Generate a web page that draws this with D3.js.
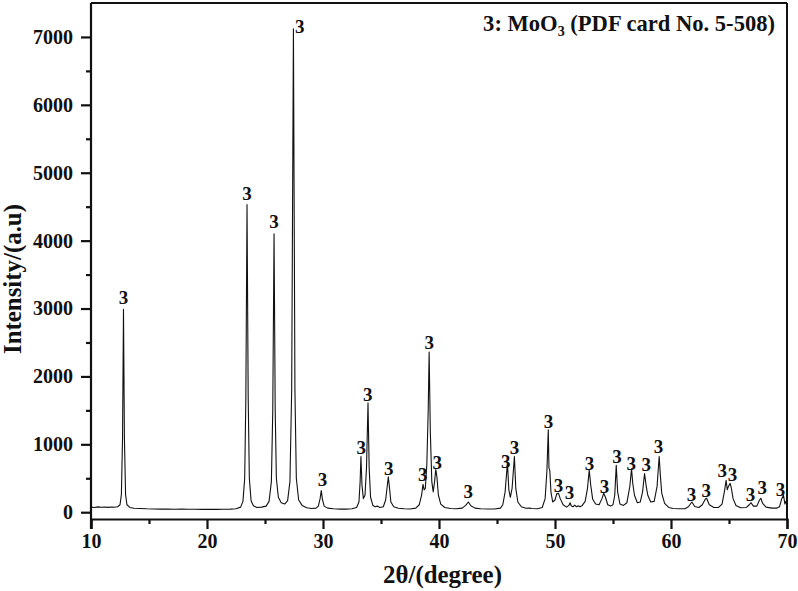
<!DOCTYPE html>
<html>
<head>
<meta charset="utf-8">
<script src="https://cdn.jsdelivr.net/npm/d3@7"></script>
<style>
html,body{margin:0;padding:0;background:#fff;}
svg{display:block;}
text{font-family:"Liberation Serif","Times New Roman",serif;font-weight:bold;fill:#111;}
</style>
</head>
<body>
<svg id="chart" width="798" height="591"></svg>
<script>
// ---- data ----
const xTicks = [10, 20, 30, 40, 50, 60, 70];
const yTicks = [0, 1000, 2000, 3000, 4000, 5000, 6000, 7000];
const xTitle = "2θ/(degree)";
const yTitle = "Intensity/(a.u)";
const legendMain = "3: MoO";
const legendSub = "3";
const legendRest = " (PDF card No. 5-508)";

// XRD pattern: [2θ, intensity]
const pattern = [
[10.0,75],[10.3,70],[10.6,78],[10.9,72],[11.2,76],[11.5,71],[11.8,77],[12.0,74],[12.3,80],[12.5,110],[12.62,260],[12.72,1100],[12.8,2990],[12.88,1100],[12.98,260],[13.1,110],[13.35,70],[13.7,58],
[14.2,55],[14.8,50],[15.4,48],[16.0,46],[16.6,47],[17.2,44],[17.8,45],[18.4,43],[19.0,44],[19.6,42],[20.2,44],[20.8,42],[21.4,43],[22.0,45],[22.5,52],
[22.9,75],[23.1,160],[23.25,500],[23.35,1700],[23.45,4530],[23.55,1700],[23.65,500],[23.8,170],[24.0,95],[24.3,70],[24.7,75],
[25.1,90],[25.35,160],[25.55,450],[25.67,1500],[25.78,4100],[25.88,1500],[25.98,500],[26.15,220],[26.4,140],[26.7,120],[26.95,170],[27.15,450],[27.3,1800],[27.45,7120],[27.58,1800],[27.7,500],[27.9,180],[28.2,100],[28.6,65],[29.0,55],[29.4,60],
[29.6,90],[29.75,200],[29.85,320],[29.95,190],[30.1,90],[30.4,60],[30.9,50],[31.5,45],[32.0,46],[32.5,50],[32.9,70],
[33.1,150],[33.2,450],[33.27,820],[33.36,400],[33.48,200],[33.62,250],[33.75,650],[33.88,1610],[33.98,650],[34.1,220],[34.3,100],[34.5,80],[34.7,90],[34.9,70],[35.2,80],[35.4,180],[35.55,400],[35.63,520],[35.72,380],[35.85,150],[36.1,80],[36.5,58],[37.0,50],[37.5,48],[38.0,60],[38.3,110],[38.5,250],[38.62,410],[38.72,330],
[38.82,350],[38.95,700],[39.07,1500],[39.15,2360],[39.25,1200],[39.38,450],[39.5,300],[39.62,450],[39.72,630],[39.82,520],[39.95,250],[40.15,120],[40.5,70],[41.0,55],[41.5,50],[42.0,60],[42.3,100],[42.53,150],[42.75,95],[43.1,60],[43.6,50],[44.2,47],[44.8,48],[45.3,60],
[45.5,110],[45.7,300],[45.9,730],[46.02,330],[46.15,220],[46.3,350],[46.5,820],[46.62,350],[46.8,150],[47.1,80],[47.5,58],[47.8,60],[48.0,55],[48.5,52],[48.9,70],
[49.15,200],[49.3,600],[49.42,1215],[49.48,650],[49.55,620],[49.65,300],[49.8,150],[50.0,180],[50.15,270],[50.3,280],[50.45,200],[50.7,110],[51.0,75],[51.2,100],[51.3,140],[51.4,95],[51.55,80],[51.7,105],[51.85,80],[52.0,95],[52.15,80],[52.35,100],
[52.6,160],[52.8,350],[52.95,620],[53.08,400],[53.25,190],[53.5,120],[53.8,110],[54.05,200],[54.2,280],[54.35,220],[54.55,110],[54.8,90],[55.0,110],[55.15,250],[55.28,690],[55.4,300],[55.6,120],[55.9,100],
[56.2,140],[56.45,380],[56.6,640],[56.7,430],[56.85,250],[57.1,140],[57.35,150],[57.55,300],[57.72,570],[57.85,400],[58.0,250],[58.25,150],[58.55,160],[58.8,380],[58.98,820],[59.08,550],[59.2,280],[59.45,130],[59.8,70],
[60.2,55],[60.7,50],[61.2,52],[61.5,80],[61.8,150],[62.05,85],[62.4,70],[62.7,110],[62.95,190],[63.07,205],[63.3,110],[63.7,70],[64.1,70],[64.4,120],[64.6,300],[64.75,470],[64.85,330],[64.95,380],[65.1,425],[65.2,360],[65.35,200],[65.6,100],
[66.0,65],[66.5,70],[66.75,110],[66.9,140],[67.1,90],[67.4,90],[67.6,170],[67.75,205],[67.9,130],[68.2,75],[68.7,60],[69.1,60],[69.35,80],[69.55,200],[69.7,250],[69.82,120],[69.9,160],[70.0,110]
];

// peak markers "3": [2θ, intensity of label baseline]
const peakLabels = [
[12.81,3060],[23.45,4600],[25.78,4180],[28.0,7060],[29.96,382],[33.29,853],[33.85,1632],[35.66,544],[38.59,456],[39.16,2397],[39.85,632],[42.53,206],
[45.76,647],[46.5,853],[49.44,1235],[50.3,294],[51.25,191],[52.98,618],[54.27,279],[55.34,721],[56.58,618],[57.87,603],[58.93,868],
[61.76,162],[63.03,221],[64.42,515],[65.3,456],[66.85,162],[67.86,265],[69.44,235]
];
const peakLabelText = "3";

// ---- layout ----
const svg = d3.select("#chart");
const L = 91, R = 787, T = 3, B = 519;
const x = d3.scaleLinear().domain([10, 70]).range([L, R]);
const y = d3.scaleLinear().domain([-100, 7500]).range([B, T]);

// measure helper: font size giving the target width for a sample string
function sizeFor(str, targetW, base) {
  const t = svg.append("text").style("font-size", base + "px").text(str);
  const w = t.node().getComputedTextLength();
  t.remove();
  return w > 0 ? base * targetW / w : base;
}
const tickSize = Math.min(24, Math.max(16, sizeFor("7000", 40, 20)));
const titleSize = Math.min(30, Math.max(20, sizeFor(xTitle, 119, 24)));
const peakSize = Math.min(22, Math.max(15, sizeFor("3", 9.5, 18)));

// curve
const line = d3.line().x(d => x(d[0])).y(d => y(d[1]));
svg.append("path").datum(pattern)
  .attr("d", line).attr("fill", "none").attr("stroke", "#111").attr("stroke-width", 1.1)
  .attr("stroke-linejoin", "round");

// frame top/right
svg.append("line").attr("x1", L).attr("x2", R).attr("y1", T).attr("y2", T).attr("stroke", "#111").attr("stroke-width", 2);
svg.append("line").attr("x1", R).attr("x2", R).attr("y1", T).attr("y2", B).attr("stroke", "#111").attr("stroke-width", 2);

// x axis
const xAxis = d3.axisBottom(x).tickValues(xTicks).tickSize(10).tickPadding(5).tickFormat(d3.format("d"));
const gx = svg.append("g").attr("transform", `translate(0,${B})`).call(xAxis);
gx.select(".domain").attr("stroke", "#111").attr("stroke-width", 2.2);
gx.selectAll(".tick line").attr("stroke", "#111").attr("stroke-width", 2.2);
gx.selectAll(".tick text").style("font-size", tickSize + "px").style("font-family", "Liberation Serif").style("font-weight", "bold").attr("fill", "#111");
const xMinor = d3.axisBottom(x).tickValues([15, 25, 35, 45, 55, 65]).tickSize(5).tickFormat("");
const gxm = svg.append("g").attr("transform", `translate(0,${B})`).call(xMinor);
gxm.select(".domain").remove();
gxm.selectAll(".tick line").attr("stroke", "#111").attr("stroke-width", 2.2);

// y axis
const yAxis = d3.axisLeft(y).tickValues(yTicks).tickSize(10).tickPadding(8).tickFormat(d3.format("d"));
const gy = svg.append("g").attr("transform", `translate(${L},0)`).call(yAxis);
gy.select(".domain").attr("stroke", "#111").attr("stroke-width", 2.2).attr("d", `M0,${T}V${B + 10}`);
gy.selectAll(".tick line").attr("stroke", "#111").attr("stroke-width", 2.2);
gy.selectAll(".tick text").style("font-size", tickSize + "px").style("font-family", "Liberation Serif").style("font-weight", "bold").attr("fill", "#111");
const yMinor = d3.axisLeft(y).tickValues([500, 1500, 2500, 3500, 4500, 5500, 6500]).tickSize(5).tickFormat("");
const gym = svg.append("g").attr("transform", `translate(${L},0)`).call(yMinor);
gym.select(".domain").remove();
gym.selectAll(".tick line").attr("stroke", "#111").attr("stroke-width", 2.2);

// peak labels
svg.append("g").selectAll("text").data(peakLabels).join("text")
  .attr("x", d => x(d[0])).attr("y", d => y(d[1]))
  .attr("text-anchor", "middle").style("font-size", peakSize + "px").text(peakLabelText);

// titles
svg.append("text").attr("x", 442.5).attr("y", 583).attr("text-anchor", "middle")
  .style("font-size", titleSize + "px").text(xTitle);
svg.append("text").attr("transform", `translate(21,279) rotate(-90)`).attr("text-anchor", "middle")
  .style("font-size", titleSize + "px").text(yTitle);

// legend, fitted to the reference width
const lg = svg.append("text").attr("x", 775).attr("y", 31).attr("text-anchor", "end").style("font-size", "20px");
lg.append("tspan").text(legendMain);
const sub = lg.append("tspan").attr("dy", 5).style("font-size", "0.62em").text(legendSub);
lg.append("tspan").attr("dy", -5).text(legendRest);
const lw = lg.node().getComputedTextLength();
if (lw > 0) {
  const ls = Math.min(26, Math.max(16, 20 * 292 / lw));
  lg.style("font-size", ls + "px");
}
</script>
</body>
</html>
